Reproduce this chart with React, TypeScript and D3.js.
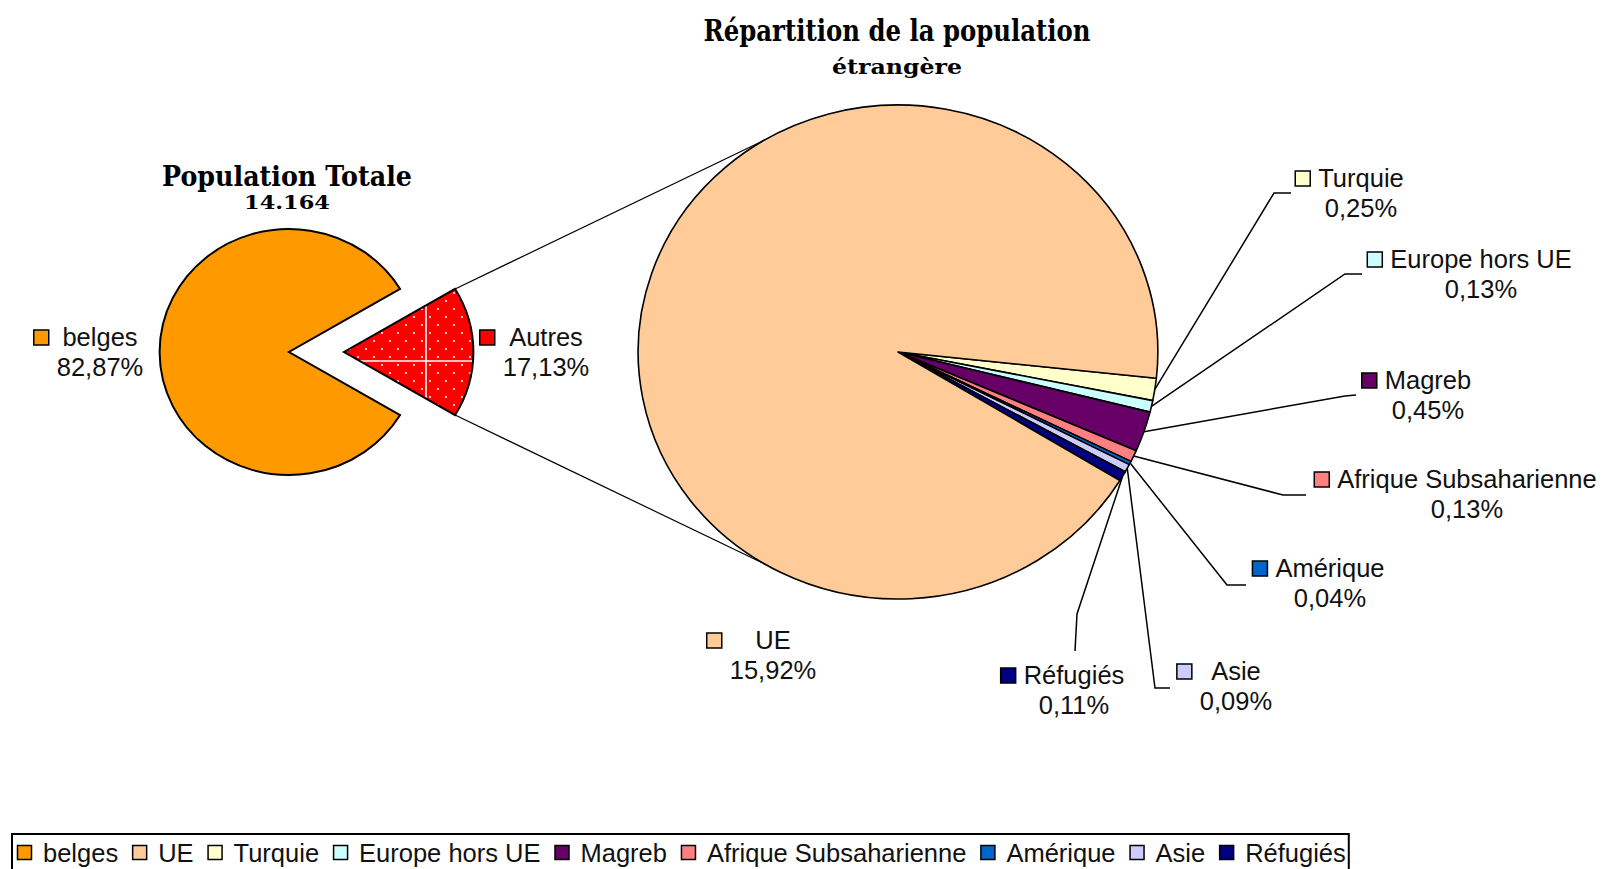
import React from "react";
import * as d3 from "d3";

// ---------- data ----------
const mainCategories = ["belges", "Autres"];
const mainValues = [82.87, 17.13];

const subCategories = ["UE", "Turquie", "Europe hors UE", "Magreb", "Afrique Subsaharienne", "Amérique", "Asie", "Réfugiés"];
const subValues = [15.92, 0.25, 0.13, 0.45, 0.13, 0.04, 0.09, 0.11];

const legendCategories = ["belges", "UE", "Turquie", "Europe hors UE", "Magreb", "Afrique Subsaharienne", "Amérique", "Asie", "Réfugiés"];

const mainTitle = ["Population Totale", "14.164"];
const subTitle = ["Répartition de la population", "étrangère"];

// ---------- style / layout ----------
const COLORS: Record<string, string> = {
  belges: "#FF9900",
  Autres: "#FF0000",
  UE: "#FFCC99",
  Turquie: "#FFFFCC",
  "Europe hors UE": "#CCFFFF",
  Magreb: "#660066",
  "Afrique Subsaharienne": "#FF8080",
  "Amérique": "#0066CC",
  Asie: "#CCCCFF",
  "Réfugiés": "#000080",
};

const W = 1605;
const H = 869;
const FONT = "'Liberation Sans', Arial, sans-serif";
const FS = 25.5;
const SX = 1.052; // horizontal stretch of the picture
const LEFT_C = [289, 352];
const AUTRES_C = [344, 352];
const R1 = 123;
const BIG_C = [898, 352];
const R2 = 247;
const SUB_START_DEG = 96.1;

type LabelLayout = { cx: number; y: number; leader?: number[][] };
const labelLayout: Record<string, LabelLayout> = {
  belges: { cx: 100, y: 346 },
  Autres: { cx: 546, y: 346 },
  UE: { cx: 773, y: 649 },
  Turquie: { cx: 1361, y: 187, leader: [[1274, 193], [1291, 193]] },
  "Europe hors UE": { cx: 1481, y: 268, leader: [[1345, 274], [1362, 274]] },
  Magreb: { cx: 1428, y: 389, leader: [[1345, 396], [1356, 395]] },
  "Afrique Subsaharienne": { cx: 1467, y: 488, leader: [[1283, 495], [1306, 495]] },
  "Amérique": { cx: 1330, y: 577, leader: [[1227, 585], [1246, 585]] },
  Asie: { cx: 1236, y: 680, leader: [[1155, 688], [1170, 688]] },
  "Réfugiés": { cx: 1074, y: 684, leader: [[1077, 614], [1075, 651]] },
};

let _ctx: CanvasRenderingContext2D | null = null;
function textWidth(s: string, size = FS): number {
  if (!_ctx) _ctx = document.createElement("canvas").getContext("2d");
  if (!_ctx) return s.length * size * 0.5;
  _ctx.font = `${size}px "Liberation Sans", Arial, sans-serif`;
  return _ctx.measureText(s).width;
}

const pct = (v: number) => v.toFixed(2).replace(".", ",") + "%";
const rad = (d: number) => (d * Math.PI) / 180;

function pt(c: number[], r: number, a: number): [number, number] {
  return [c[0] + SX * r * Math.sin(a), c[1] - r * Math.cos(a)];
}

function Label({ name, value }: { name: string; value: number }) {
  const L = labelLayout[name];
  const t2 = pct(value);
  const maxW = Math.max(textWidth(name), textWidth(t2));
  const left = L.cx - maxW / 2;
  const kx = left - 8 - 15;
  return (
    <g>
      <rect x={kx} y={L.y - 16} width={15} height={15} fill={COLORS[name]} stroke="#000" strokeWidth={1.5} />
      <text x={L.cx} y={L.y} textAnchor="middle" fontFamily={FONT} fontSize={FS} fill="#111">{name}</text>
      <text x={L.cx} y={L.y + 29.5} textAnchor="middle" fontFamily={FONT} fontSize={FS} fill="#111">{t2}</text>
    </g>
  );
}

export default function App() {
  // left pie
  const halfAutres = (mainValues[1] / d3.sum(mainValues)) * Math.PI;
  const leftPie = d3
    .pie<number>()
    .sort(null)
    .startAngle(Math.PI / 2 - halfAutres)
    .endAngle(Math.PI / 2 - halfAutres + 2 * Math.PI);
  const leftOrder = [1, 0]; // Autres first, then belges
  const leftArcs = leftPie(leftOrder.map((i) => mainValues[i]));
  const arc1 = d3.arc<d3.PieArcDatum<number>>().innerRadius(0).outerRadius(R1);

  // sub pie: small slices first, UE last
  const subOrder = [1, 2, 3, 4, 5, 6, 7, 0];
  const s0 = rad(SUB_START_DEG);
  const subPie = d3.pie<number>().sort(null).startAngle(s0).endAngle(s0 + 2 * Math.PI);
  const subArcs = subPie(subOrder.map((i) => subValues[i]));
  const arc2 = d3.arc<d3.PieArcDatum<number>>().innerRadius(0).outerRadius(R2);

  const autresArc = leftArcs[0];
  const connTopA = pt(AUTRES_C, R1, autresArc.startAngle);
  const connBotA = pt(AUTRES_C, R1, autresArc.endAngle);
  const connTopB = pt(BIG_C, R2, -halfAutres);
  const connBotB = pt(BIG_C, R2, Math.PI + halfAutres);

  // legend layout
  let lx = 17.5;
  const legendItems = legendCategories.map((c) => {
    const item = { c, sx: lx, tx: lx + 25.5 };
    lx = item.tx + textWidth(c) + 14.5;
    return item;
  });
  const legendRight = lx - 14.5 + 3;

  const autresTransform = `translate(${AUTRES_C[0]},${AUTRES_C[1]}) scale(${SX},1)`;

  return (
    <svg width={W} height={H} style={{ position: "fixed", left: 0, top: 0, background: "#fff" }}>
      <defs>
        <pattern id="autresPat" patternUnits="userSpaceOnUse" x={362} y={297} width={128} height={128}>
          <rect width={128} height={128} fill={COLORS.Autres} />
          {d3.range(8).flatMap((i) =>
            d3.range(8).flatMap((j) => [
              <circle key={`a${i}-${j}`} cx={i * 16 + 4} cy={j * 16 + 4} r={1.1} fill="#fff" />,
              <circle key={`b${i}-${j}`} cx={i * 16 + 12} cy={j * 16 + 12} r={1.1} fill="#fff" />,
            ])
          )}
          <line x1={64} y1={0} x2={64} y2={128} stroke="#fff" strokeWidth={1.6} />
          <line x1={0} y1={64} x2={128} y2={64} stroke="#fff" strokeWidth={1.6} />
        </pattern>
        <clipPath id="autresClip" clipPathUnits="userSpaceOnUse">
          <path transform={autresTransform} d={arc1(leftArcs[0]) || ""} />
        </clipPath>
      </defs>

      {/* titles */}
      <text x={897} y={41} textAnchor="middle" fontFamily="'DejaVu Serif', serif" fontWeight="bold" fontSize={30} textLength={387} lengthAdjust="spacingAndGlyphs">{subTitle[0]}</text>
      <text x={897} y={74} textAnchor="middle" fontFamily="'DejaVu Serif', serif" fontWeight="bold" fontSize={20} textLength={130} lengthAdjust="spacingAndGlyphs">{subTitle[1]}</text>
      <text x={287} y={186} textAnchor="middle" fontFamily="'DejaVu Serif', serif" fontWeight="bold" fontSize={27} textLength={250} lengthAdjust="spacingAndGlyphs">{mainTitle[0]}</text>
      <text x={287} y={209} textAnchor="middle" fontFamily="'DejaVu Serif', serif" fontWeight="bold" fontSize={19} textLength={86} lengthAdjust="spacingAndGlyphs">{mainTitle[1]}</text>

      {/* connectors */}
      <line x1={connTopA[0]} y1={connTopA[1]} x2={connTopB[0]} y2={connTopB[1]} stroke="#000" strokeWidth={1.2} />
      <line x1={connBotA[0]} y1={connBotA[1]} x2={connBotB[0]} y2={connBotB[1]} stroke="#000" strokeWidth={1.2} />

      {/* left pie: belges */}
      <g transform={`translate(${LEFT_C[0]},${LEFT_C[1]}) scale(${SX},1)`}>
        <path d={arc1(leftArcs[1]) || ""} fill={COLORS.belges} stroke="#000" strokeWidth={2} vectorEffect="non-scaling-stroke" />
      </g>
      {/* Autres (exploded) with pattern in page coordinates */}
      <rect x={AUTRES_C[0] - 5} y={AUTRES_C[1] - R1 - 5} width={SX * R1 + 10} height={2 * R1 + 10} fill="url(#autresPat)" clipPath="url(#autresClip)" />
      <g transform={autresTransform}>
        <path d={arc1(leftArcs[0]) || ""} fill="none" stroke="#000" strokeWidth={2} vectorEffect="non-scaling-stroke" />
      </g>

      {/* big pie */}
      <g transform={`translate(${BIG_C[0]},${BIG_C[1]}) scale(${SX},1)`}>
        {subArcs.map((a, k) => (
          <path key={k} d={arc2(a) || ""} fill={COLORS[subCategories[subOrder[k]]]} stroke="#000" strokeWidth={1.6} vectorEffect="non-scaling-stroke" strokeLinejoin="round" />
        ))}
      </g>

      {/* leader lines */}
      {subArcs.map((a, k) => {
        const name = subCategories[subOrder[k]];
        const L = labelLayout[name];
        if (!L.leader) return null;
        const mid = (a.startAngle + a.endAngle) / 2;
        const p0 = pt(BIG_C, R2, mid);
        const pts = [p0, ...L.leader];
        return <polyline key={`l${k}`} points={pts.map((p) => p.join(",")).join(" ")} fill="none" stroke="#000" strokeWidth={1.5} />;
      })}

      {/* labels */}
      {mainCategories.map((c, i) => <Label key={c} name={c} value={mainValues[i]} />)}
      {subCategories.map((c, i) => <Label key={c} name={c} value={subValues[i]} />)}

      {/* legend */}
      <rect x={12} y={834} width={legendRight - 12} height={48} fill="#fff" stroke="#000" strokeWidth={2} />
      {legendItems.map((it) => (
        <g key={it.c}>
          <rect x={it.sx} y={845.5} width={14} height={14} fill={COLORS[it.c]} stroke="#000" strokeWidth={1.5} />
          <text x={it.tx} y={862} fontFamily={FONT} fontSize={FS} fill="#111">{it.c}</text>
        </g>
      ))}
    </svg>
  );
}
